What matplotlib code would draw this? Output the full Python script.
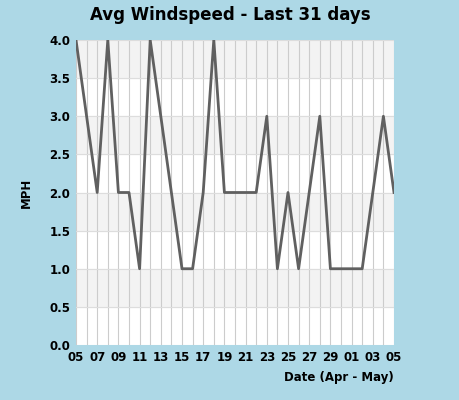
import matplotlib
matplotlib.use("Agg")
import matplotlib.pyplot as plt

days = ["05","06","07","08","09","10","11","12","13","14","15","16","17","18","19","20",
        "21","22","23","24","25","26","27","28","29","30","01","02","03","04","05"]
speeds = [4,3,2,4,2,2,1,4,3,2,1,1,2,4,2,2,2,2,3,1,2,1,2,3,1,1,1,1,2,3,2]
yticks = [0.0,0.5,1.0,1.5,2.0,2.5,3.0,3.5,4.0]

fig = plt.figure(figsize=(4.6,4.0), dpi=100, facecolor="#add8e6")
ax = fig.add_axes([76/460, 55/400, 318/460, 305/400])
ax.set_facecolor("white")
x = list(range(len(speeds)))
for i in range(8):
    if i % 2 == 1:
        ax.axhspan(i*0.5, (i+1)*0.5, color="#f3f3f3", zorder=0)
for xi in x:
    ax.axvline(xi, color="#cccccc", lw=0.8, zorder=1)
for yv in yticks:
    ax.axhline(yv, color="#dddddd", lw=0.8, zorder=1)
ax.plot(x, speeds, color="#606060", lw=2, zorder=3)
ax.set_xlim(0, len(speeds)-1)
ax.set_ylim(0, 4)
ax.set_xticks(x[::2])
ax.set_xticklabels(days[::2], fontsize=8.5, fontweight="bold")
ax.set_yticks(yticks)
ax.set_yticklabels([f"{v:.1f}" for v in yticks], fontsize=8.5, fontweight="bold")
ax.tick_params(length=0, pad=4)
for s in ax.spines.values():
    s.set_visible(False)
ax.set_ylabel("MPH", fontsize=8.5, fontweight="bold", labelpad=12)
fig.text(394/460, 22/400, "Date (Apr - May)", ha="right", va="center", fontsize=8.5, fontweight="bold")
fig.text(0.5, 385/400, "Avg Windspeed - Last 31 days", ha="center", va="center", fontsize=12, fontweight="bold")
fig.savefig("out.png", dpi=100, facecolor=fig.get_facecolor())
